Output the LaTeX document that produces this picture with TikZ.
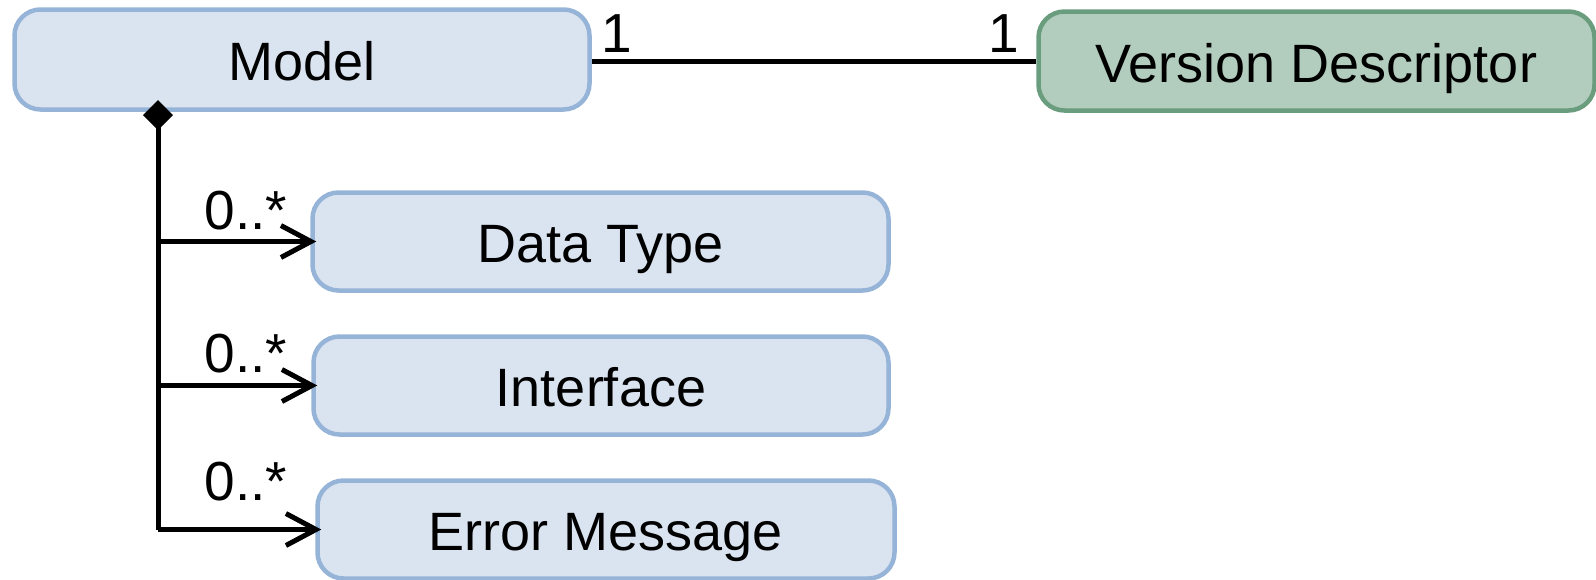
\documentclass[tikz,border=0pt]{standalone}
\usepackage{fontspec}
\setmainfont{Liberation Sans}
\usetikzlibrary{arrows.meta,positioning}
\definecolor{clsfill}{RGB}{218,227,240}
\definecolor{clsline}{RGB}{150,180,216}
\definecolor{descfill}{RGB}{178,205,189}
\definecolor{descline}{RGB}{106,156,126}

\begin{document}
\begin{tikzpicture}[x=0.5pt, y=-0.5pt,
  cls/.style={draw=clsline, fill=clsfill, line width=2.25pt,
    rounded corners=13pt, minimum height=49pt, inner sep=0pt,
    font=\fontsize{27}{32}\selectfont, text height=21pt, text depth=0pt},
  desc/.style={cls, draw=descline, fill=descfill},
  mult/.style={inner sep=0pt, font=\fontsize{27.5}{32}\selectfont},
  conn/.style={line width=2.5pt},
  navarrow/.style={conn, shorten >=-3pt, -{Straight Barb[length=15pt,width=16pt]}}]
\useasboundingbox (0,0) rectangle (1596,579);
% Classes
\node[cls, minimum width=287.5pt, minimum height=50pt] (model) at (302,59.5) {Model};
\node[desc, minimum width=278pt, minimum height=49.5pt] (version) at (1316.5,61) {Version Descriptor};
\node[cls, minimum width=288pt] (datatype) at (600.5,241.5) {Data Type};
\node[cls, minimum width=287.5pt] (interface) at (601,385.5) {Interface};
\node[cls, minimum width=288.5pt] (errmsg) at (606,529.5) {Error Message};
% Association Model -- Version Descriptor
\draw[conn] (model.east |- version.west) -- (version.west);
\node[mult] (m1) at (617,33.5) {1};
\node[mult] (v1) at (1004,33.5) {1};
% Composition
\coordinate (spine) at (158,100);
\coordinate (bend) at (spine |- errmsg.west);
\draw[conn, {Diamond[length=15pt,width=15pt]}-] (spine) -- (bend);
\draw[navarrow] (spine |- datatype.west) -- (datatype.west);
\draw[navarrow] (spine |- interface.west) -- (interface.west);
\draw[navarrow] (bend) -- (errmsg.west);
% Multiplicities
\node[mult] (d1) at (246,210.5) {0..*};
\node[mult] (i1) at (246,354) {0..*};
\node[mult] (e1) at (246,481.5) {0..*};
\end{tikzpicture}
\end{document}
